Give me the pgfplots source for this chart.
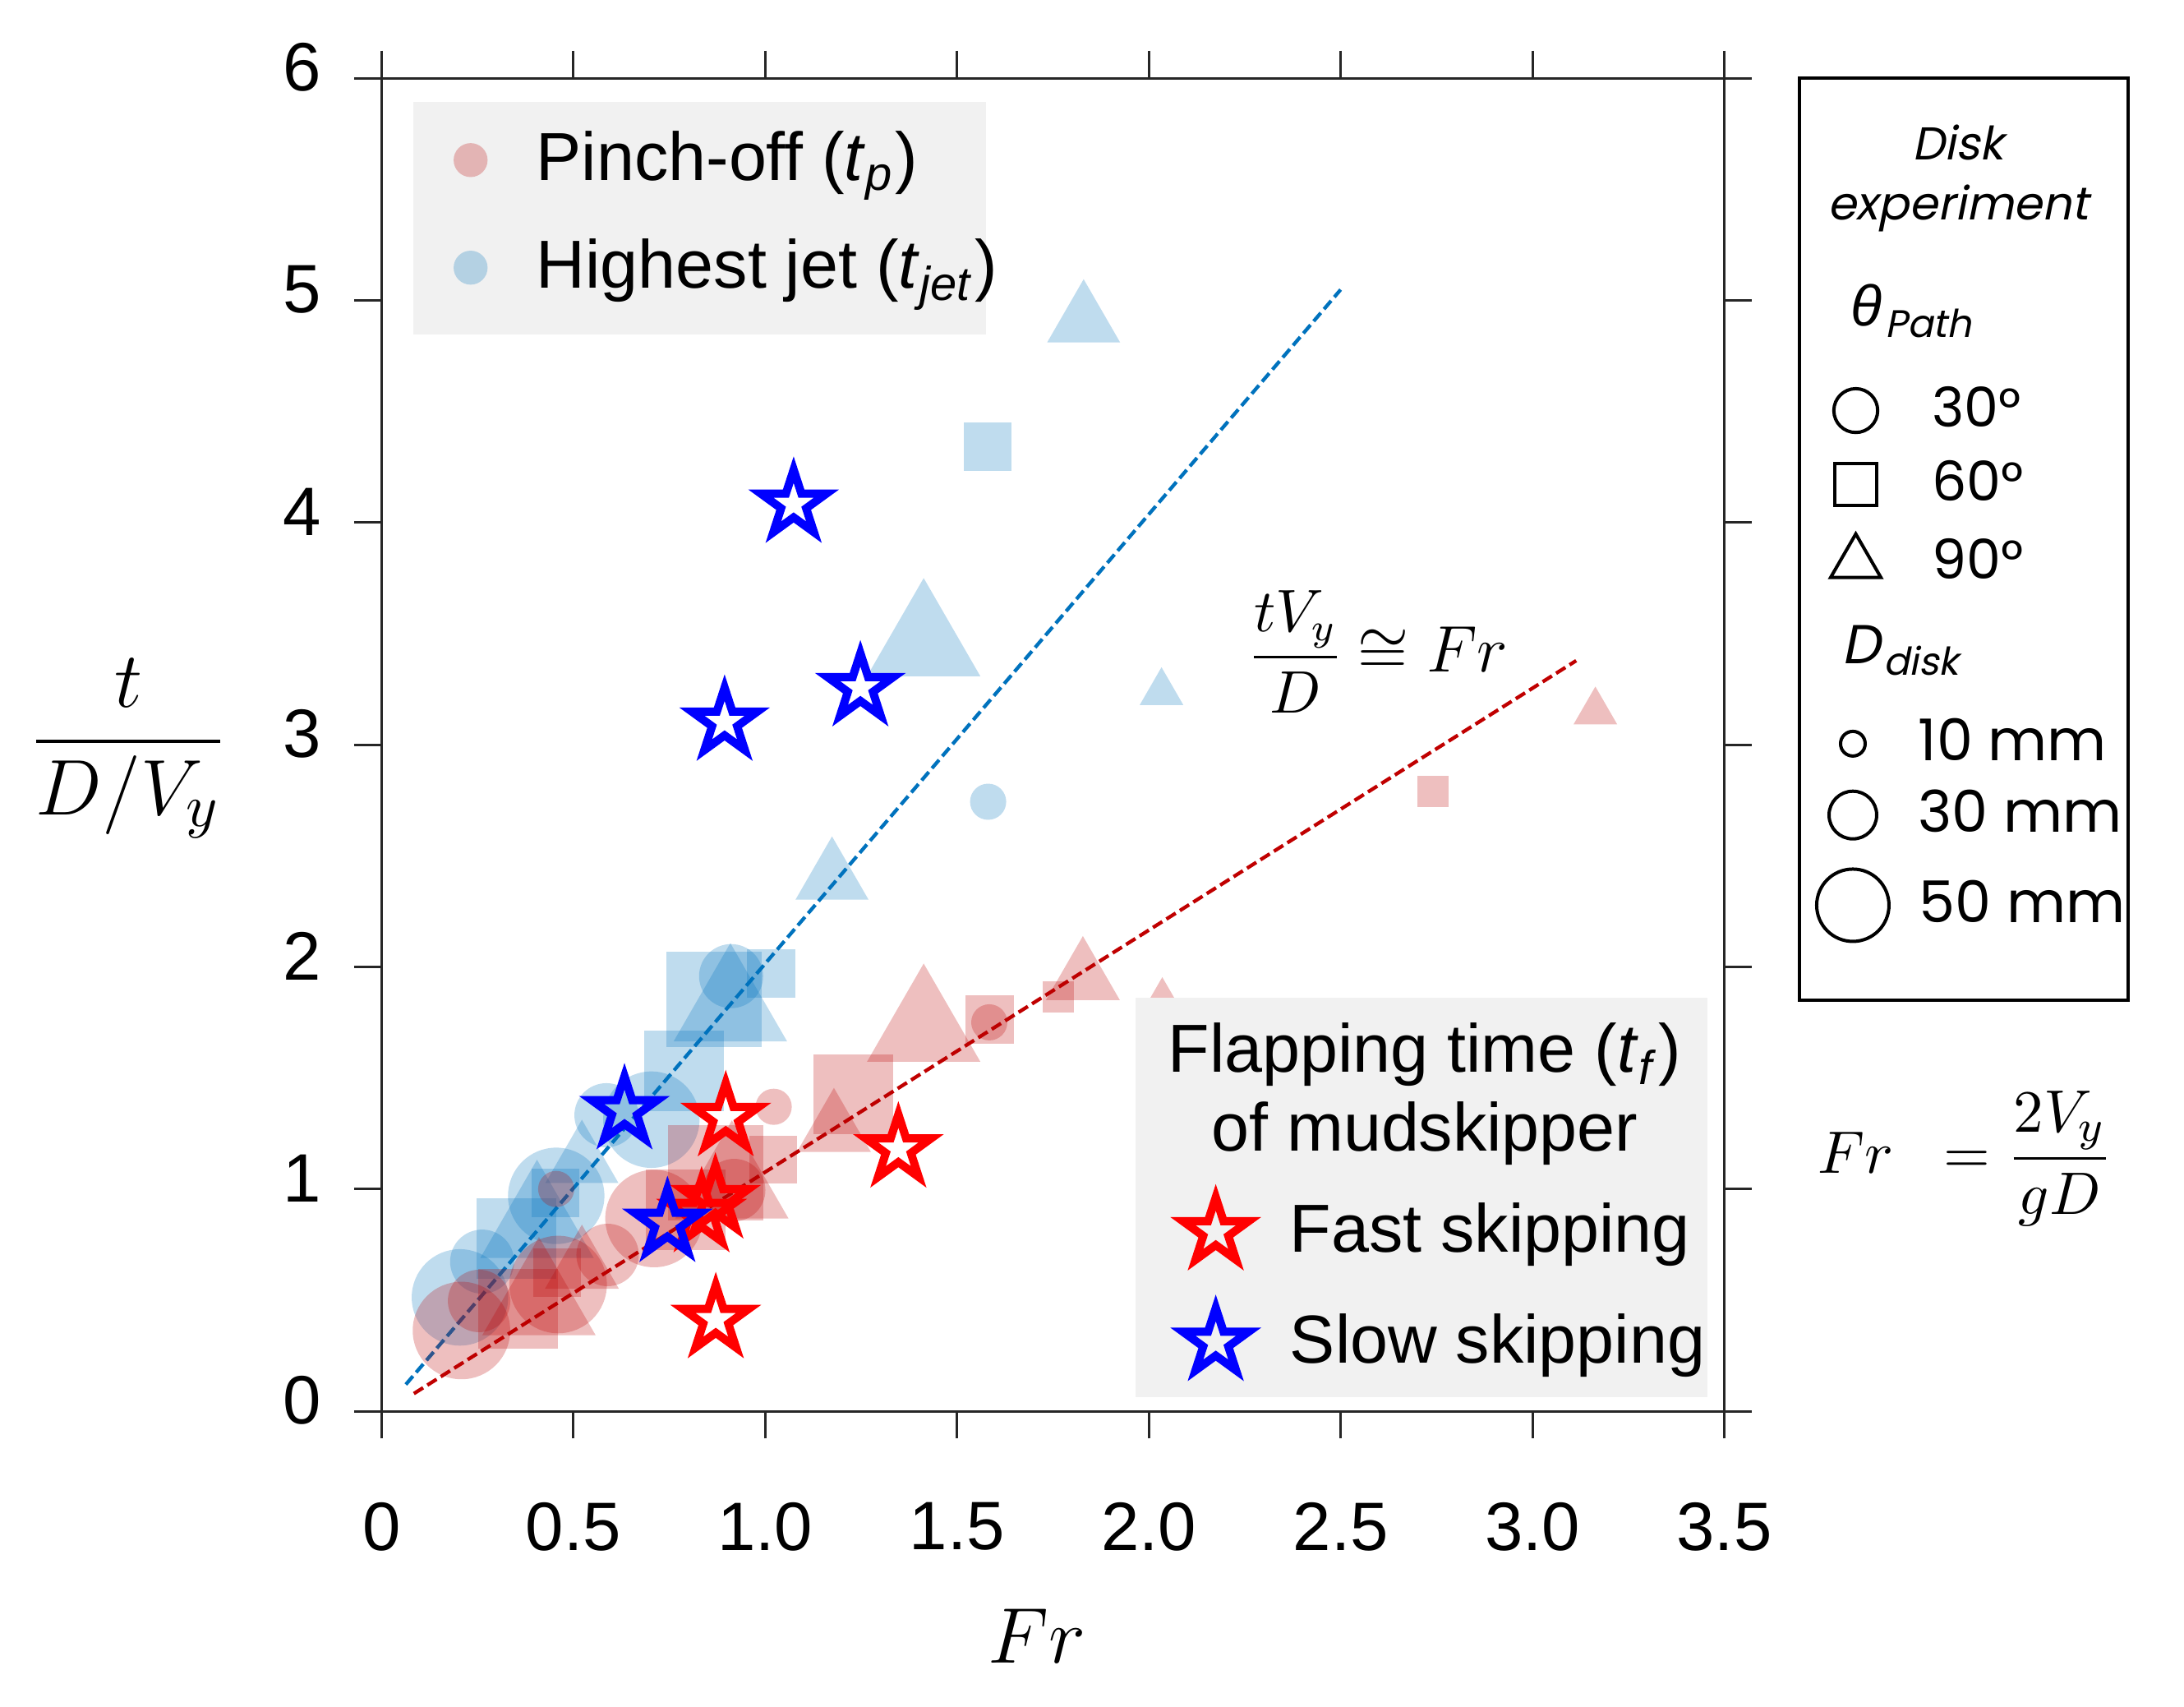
\documentclass[border=0pt]{standalone}
\usepackage{fontspec}
\setmainfont{Liberation Sans}
\newfontfamily\pop{Poppins}
\newfontfamily\popit[FakeSlant=0.2]{Poppins}
\usepackage{amsmath}
\usepackage{pgfplots}
\pgfplotsset{compat=1.18}

\definecolor{jetblue}{RGB}{0,114,189}
\definecolor{pinchred}{RGB}{187,0,0}
\definecolor{fitred}{RGB}{192,0,0}
\definecolor{leggray}{RGB}{241,241,241}

\pgfdeclareplotmark{pentastar}{%
  \pgfpathmoveto{\pgfpointpolar{90}{\pgfplotmarksize}}%
  \pgfpathlineto{\pgfpointpolar{126}{0.382\pgfplotmarksize}}%
  \pgfpathlineto{\pgfpointpolar{162}{\pgfplotmarksize}}%
  \pgfpathlineto{\pgfpointpolar{198}{0.382\pgfplotmarksize}}%
  \pgfpathlineto{\pgfpointpolar{234}{\pgfplotmarksize}}%
  \pgfpathlineto{\pgfpointpolar{270}{0.382\pgfplotmarksize}}%
  \pgfpathlineto{\pgfpointpolar{306}{\pgfplotmarksize}}%
  \pgfpathlineto{\pgfpointpolar{342}{0.382\pgfplotmarksize}}%
  \pgfpathlineto{\pgfpointpolar{18}{\pgfplotmarksize}}%
  \pgfpathlineto{\pgfpointpolar{54}{0.382\pgfplotmarksize}}%
  \pgfpathclose
  \pgfusepathqstroke
}

\pgfplotsset{
  blob/.style n args={3}{only marks, mark=#1, mark size=#2pt,
    mark options={draw opacity=0, fill=#3, fill opacity=0.25}},
  starred/.style={only marks, mark=pentastar, mark size=6.3pt,
    mark options={draw=#1, fill=none, line width=1.5pt, solid}},
  legax/.style={hide axis, scale only axis, width=245.1pt, height=243.3pt,
    at={(0,0)}, anchor=south west, xmin=0, xmax=1, ymin=0, ymax=1,
    legend cell align=left,
    legend image code/.code={\draw[##1] plot coordinates {(0pt,0pt)};}},
  legsty/.style={draw=none, fill=none, inner sep=0pt, outer sep=0pt,
    nodes={inner sep=0pt, outer sep=0pt}},
}

\begin{document}
\begin{tikzpicture}
\begin{axis}[
  scale only axis, width=245.1pt, height=243.3pt,
  at={(0,0)}, anchor=south west,
  xmin=0, xmax=3.5, ymin=0, ymax=6,
  xtick={0,0.5,1,1.5,2,2.5,3,3.5},
  xticklabels={0,0.5,1.0,1.5,2.0,2.5,3.0,3.5},
  ytick={0,1,2,3,4,5,6},
  tick align=outside, major tick length=5pt,
  axis line style={black!85, line width=0.45pt},
  every tick/.style={black!85, line width=0.45pt},
  tick label style={font=\fontsize{12.5}{15}\selectfont},
  xticklabel style={yshift=-8.1pt},
  yticklabel style={xshift=-2.5pt, yshift=2pt},
  /pgf/number format/assume math mode=true,
  xlabel={$Fr$}, ylabel={$\dfrac{t}{D/V_y}$},
  xlabel style={at={(axis description cs:0.488,-0.169)}, anchor=center, font=\fontsize{15}{18}\selectfont},
  ylabel style={rotate=-90, at={(axis description cs:-0.1888,0.497)}, anchor=center, font=\fontsize{15}{18}\selectfont},
]
% Highest jet (blue)
\addplot[blob={*}{3.3}{jetblue}] coordinates {(1.581,2.743)};
\addplot[blob={*}{5.85}{jetblue}] coordinates {(0.911,1.958) (0.586,1.332) (0.262,0.673)};
\addplot[blob={*}{8.8}{jetblue}] coordinates {(0.703,1.312) (0.455,0.969) (0.204,0.512)};
\addplot[blob={square*}{4.4}{jetblue}] coordinates {(1.016,1.970) (0.453,0.982) (1.580,4.341)};
\addplot[blob={square*}{7.3}{jetblue}] coordinates {(0.788,1.531) (0.351,0.777)};
\addplot[blob={square*}{8.7}{jetblue}] coordinates {(0.866,1.852)};
\addplot[blob={triangle*}{4.6}{jetblue}] coordinates {(2.033,3.235)};
\addplot[blob={triangle*}{7.7}{jetblue}] coordinates {(0.522,1.122) (1.830,4.905) (1.174,2.397)};
\addplot[blob={triangle*}{11.95}{jetblue}] coordinates {(0.909,1.812) (0.405,0.837) (1.413,3.455)};
% Pinch-off (red)
\addplot[blob={*}{3.3}{pinchred}] coordinates {(1.022,1.370) (1.584,1.750) (0.455,1.000)};
\addplot[blob={*}{5.7}{pinchred}] coordinates {(0.254,0.496) (0.589,0.703) (0.919,0.995)};
\addplot[blob={*}{8.9}{pinchred}] coordinates {(0.208,0.363) (0.460,0.570) (0.710,0.867)};
\addplot[blob={square*}{2.85}{pinchred}] coordinates {(1.764,1.866) (2.741,2.788)};
\addplot[blob={square*}{4.4}{pinchred}] coordinates {(0.457,0.623) (1.021,1.132) (1.585,1.763)};
\addplot[blob={square*}{7.3}{pinchred}] coordinates {(0.355,0.461) (0.792,0.907) (1.230,1.427)};
\addplot[blob={square*}{8.7}{pinchred}] coordinates {(0.871,1.072)};
\addplot[blob={triangle*}{4.6}{pinchred}] coordinates {(2.035,1.840) (3.164,3.148)};
\addplot[blob={triangle*}{7.8}{pinchred}] coordinates {(0.522,0.647) (1.179,1.263) (1.828,1.946)};
\addplot[blob={triangle*}{11.95}{pinchred}] coordinates {(0.410,0.489) (0.913,1.014) (1.413,1.720)};
% mudskipper
\addplot[starred=red] coordinates {(0.897,1.321) (0.870,0.951) (0.834,0.889) (0.871,0.412) (1.347,1.180)};
\addplot[starred=blue] coordinates {(1.074,4.082) (0.894,3.101) (1.248,3.256) (0.633,1.352) (0.745,0.845)};
% fits
\addplot[jetblue, line width=0.65pt, dash pattern=on 2pt off 0.9pt] coordinates {(0.063,0.12) (2.50,5.048)};
\addplot[fitred, line width=0.65pt, dash pattern=on 2pt off 0.9pt] coordinates {(0.084,0.079) (3.114,3.378)};
\end{axis}

% backgrounds, frame and free texts (reference pixel coordinates)
\begin{scope}[x=0.15pt, y=-0.15pt, xshift=-69.675pt, yshift=257.55pt]
  \fill[leggray] (503,124) rectangle (1200,407);
  \fill[leggray] (1382,1214) rectangle (2078,1700);
  \draw[black, line width=0.7pt] (2190,95) rectangle (2590,1217);
  \node[anchor=base, font=\fontsize{12.4}{14}\selectfont] at (1734,1305) {Flapping time (\textit{t}\textsubscript{\textit{f}})};
  \node[anchor=base, font=\fontsize{12.4}{14}\selectfont] at (1734,1401) {of mudskipper};
  \node[anchor=center] at (1677,793) {{\fontsize{10.5}{12}\selectfont$\dfrac{tV_y}{D}$}\kern2.5pt{\fontsize{12}{14}\selectfont$\cong Fr$}};
  \node[anchor=center, font=\fontsize{10.8}{13}\selectfont] at (2392,1410) {$Fr\;\;=\dfrac{2V_y}{gD}$};
  \node[anchor=base, font=\popit\fontsize{8.4}{10}\selectfont] at (2383,195) {Disk};
  \node[anchor=base, font=\popit\fontsize{8.4}{10}\selectfont] at (2383,268) {experiment};
  \node[anchor=base west, inner sep=0pt] at (2251,397) {{\fontsize{10.5}{13}\selectfont\itshape θ}\kern0.6pt{\popit\fontsize{7}{9}\selectfont\raisebox{-2pt}{Path}}};
  \node[anchor=base west, inner sep=0pt] at (2240,808) {{\popit\fontsize{10}{12}\selectfont D}\kern0.6pt{\popit\fontsize{7}{9}\selectfont\raisebox{-2pt}{disk}}};
\end{scope}

% legend 1
\begin{axis}[legax,
  legend style={legsty, at={(axis description cs:0.0536,0.960)}, anchor=north west, row sep=9.15pt,
    font=\fontsize{12.4}{14}\selectfont, /tikz/every odd column/.append style={column sep=8.9pt}}]
\addlegendimage{mark=*, mark size=3.1pt, mark options={draw opacity=0, fill=pinchred, fill opacity=0.25}}
\addlegendentry{Pinch-off (\textit{t}\textsubscript{\textit{p}})}
\addlegendimage{mark=*, mark size=3.1pt, mark options={draw opacity=0, fill=jetblue, fill opacity=0.25}}
\addlegendentry{Highest jet (\textit{t}\textsubscript{\textit{jet}})}
\end{axis}

% legend 2
\begin{axis}[legax,
  legend style={legsty, at={(axis description cs:0.5968,0.1604)}, anchor=north west, row sep=8.64pt,
    font=\fontsize{12.4}{14}\selectfont, /tikz/every odd column/.append style={column sep=7.55pt}}]
\addlegendimage{mark=pentastar, mark size=6.3pt, mark options={draw=red, fill=none, line width=1.5pt, solid}}
\addlegendentry{Fast skipping}
\addlegendimage{mark=pentastar, mark size=6.3pt, mark options={draw=blue, fill=none, line width=1.5pt, solid}}
\addlegendentry{Slow skipping}
\end{axis}

% legend 3a: path angle
\begin{axis}[legax,
  legend style={legsty, at={(axis description cs:1.0792,0.7688)}, anchor=north west, row sep=4.6pt,
    font=\pop\fontsize{10}{12}\selectfont, /tikz/every odd column/.append style={column sep=9.3pt}}]
\addlegendimage{mark=o, mark size=4pt, mark options={draw=black, line width=0.6pt}}
\addlegendentry{30°}
\addlegendimage{mark=square, mark size=3.8pt, mark options={draw=black, line width=0.6pt}}
\addlegendentry{60°}
\addlegendimage{mark=triangle, mark size=5.3pt, mark options={draw=black, line width=0.6pt}}
\addlegendentry{90°}
\end{axis}

% legend 3b: disk diameter (10, 30 mm)
\begin{axis}[legax,
  legend style={legsty, at={(axis description cs:1.0780,0.5196)}, anchor=north west, row sep=3.8pt,
    font=\pop\fontsize{10.5}{12}\selectfont, /tikz/every odd column/.append style={column sep=7.6pt}}]
\addlegendimage{mark=o, mark size=2.25pt, mark options={draw=black, line width=0.6pt}}
\addlegendentry{10 mm}
\addlegendimage{mark=o, mark size=4.35pt, mark options={draw=black, line width=0.6pt}}
\addlegendentry{30 mm}
\end{axis}

% legend 3c: disk diameter (50 mm)
\begin{axis}[legax,
  legend style={legsty, at={(axis description cs:1.0688,0.3795)}, anchor=west,
    font=\pop\fontsize{10.5}{12}\selectfont, /tikz/every odd column/.append style={column sep=5.55pt}}]
\addlegendimage{mark=o, mark size=6.6pt, mark options={draw=black, line width=0.6pt}}
\addlegendentry{50 mm}
\end{axis}

\pgfresetboundingbox
\useasboundingbox (-69.675pt,-53.85pt) rectangle (329.025pt,257.55pt);
\end{tikzpicture}
\end{document}
